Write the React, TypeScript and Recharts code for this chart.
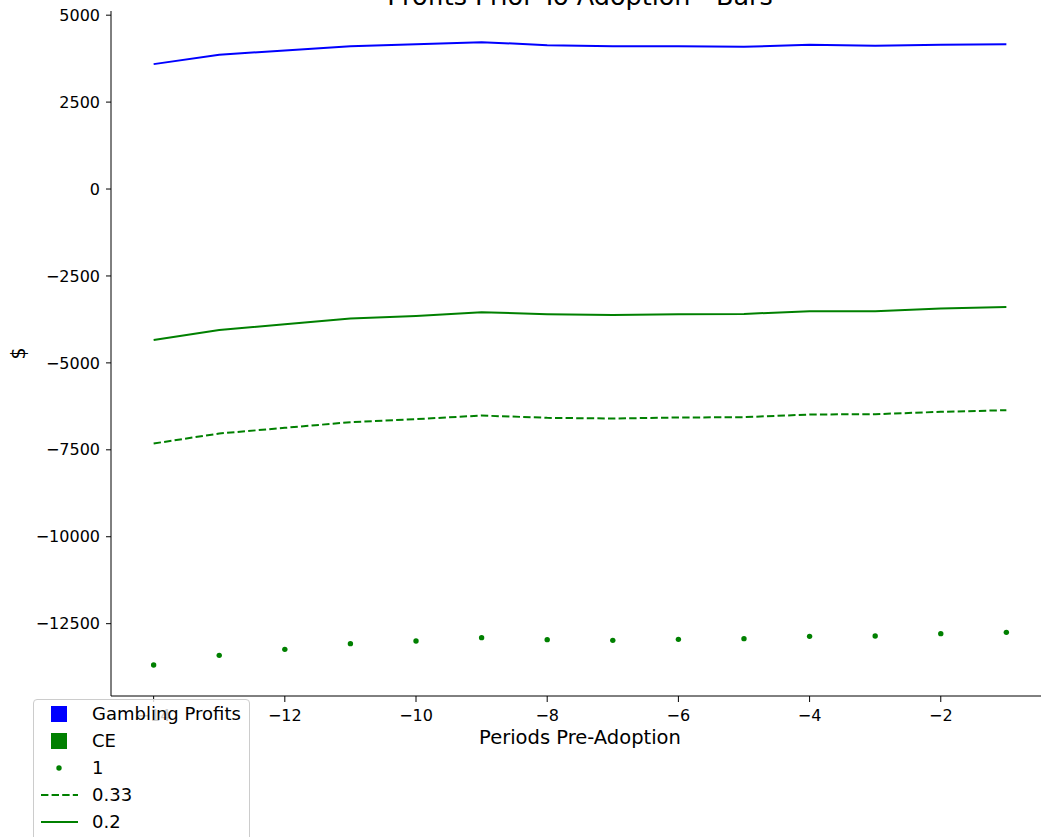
import { LineChart, Line, XAxis, YAxis } from "recharts";

const periods = [-14, -13, -12, -11, -10, -9, -8, -7, -6, -5, -4, -3, -2, -1];
const gamblingProfits = [3592, 3859, 3986, 4109, 4167, 4224, 4138, 4109, 4109, 4089, 4147, 4118, 4147, 4167];
const ceRisk1 = [-13687, -13411, -13239, -13075, -12997, -12902, -12960, -12980, -12951, -12931, -12865, -12853, -12787, -12750];
const ceRisk033 = [-7318, -7031, -6868, -6705, -6618, -6514, -6580, -6600, -6571, -6561, -6485, -6475, -6408, -6360];
const ceRisk02 = [-4339, -4052, -3888, -3726, -3649, -3544, -3601, -3621, -3601, -3592, -3515, -3515, -3439, -3391];

const xTicks = [-14, -12, -10, -8, -6, -4, -2];
const yTicks = [-12500, -10000, -7500, -5000, -2500, 0, 2500, 5000];

const data = periods.map((p, i) => ({
  period: p,
  gambling: gamblingProfits[i],
  ce1: ceRisk1[i],
  ce033: ceRisk033[i],
  ce02: ceRisk02[i],
}));

const FONT = "'DejaVu Sans', sans-serif";
const fmt = (v: number) => (v < 0 ? "\u2212" + Math.abs(v) : String(v));

const legendItems = [
  { label: "Gambling Profits", kind: "square", color: "#0000ff" },
  { label: "CE", kind: "square", color: "#008000" },
  { label: "1", kind: "dot", color: "#008000" },
  { label: "0.33", kind: "dash", color: "#008000" },
  { label: "0.2", kind: "line", color: "#008000" },
];

function LegendBox() {
  return (
    <div
      style={{
        position: "absolute",
        left: 33,
        top: 699,
        width: 215,
        height: 160,
        background: "rgba(255,255,255,0.8)",
        border: "1px solid #cccccc",
        borderRadius: 4,
        fontFamily: FONT,
        fontSize: 18,
        color: "#000",
      }}
    >
      {legendItems.map((it, i) => (
        <div key={it.label} style={{ position: "absolute", left: 0, top: 2 + i * 27, height: 24, width: 215 }}>
          <svg width={50} height={24} style={{ position: "absolute", left: 5, top: 0 }}>
            {it.kind === "square" && <rect x={12} y={4} width={16} height={16} fill={it.color} />}
            {it.kind === "dot" && <circle cx={20} cy={12} r={2.7} fill={it.color} />}
            {it.kind === "dash" && (
              <line x1={2} y1={12} x2={39} y2={12} stroke={it.color} strokeWidth={2} strokeDasharray="7.4 3.2" />
            )}
            {it.kind === "line" && <line x1={2} y1={12} x2={39} y2={12} stroke={it.color} strokeWidth={2} />}
          </svg>
          <span style={{ position: "absolute", left: 58, top: 1, lineHeight: "22px", whiteSpace: "nowrap" }}>{it.label}</span>
        </div>
      ))}
    </div>
  );
}

export default function App() {
  return (
    <div style={{ position: "fixed", left: 0, top: 0, width: 1041, height: 837, overflow: "hidden", background: "#fff" }}>
      <LineChart width={1100} height={837} data={data} margin={{ top: 11, right: 51, bottom: 91, left: 0 }}>
        <XAxis
          dataKey="period"
          type="number"
          domain={[-14.65, -0.35]}
          ticks={xTicks}
          allowDataOverflow
          height={50}
          tickSize={6}
          tickMargin={8}
          tickFormatter={fmt}
          stroke="#000"
          tick={{ fill: "#000", fontSize: 16, fontFamily: FONT }}
          label={{ value: "Periods Pre-Adoption", position: "insideBottom", offset: 2, fill: "#000", fontSize: 19.5, fontFamily: FONT }}
        />
        <XAxis
          xAxisId="top"
          orientation="top"
          dataKey="period"
          type="number"
          domain={[-14.65, -0.35]}
          allowDataOverflow
          height={0}
          tick={false}
          tickLine={false}
          stroke="#000"
        />
        <YAxis
          type="number"
          domain={[-14580, 5120]}
          ticks={yTicks}
          allowDataOverflow
          width={111}
          tickSize={5}
          tickMargin={6}
          tickFormatter={fmt}
          stroke="#000"
          tick={{ fill: "#000", fontSize: 16, fontFamily: FONT }}
          label={{
            content: (props: any) => {
              const vb = props.viewBox || { y: 11, height: 685 };
              const cy = vb.y + vb.height / 2;
              return (
                <text
                  x={18}
                  y={cy}
                  transform={`rotate(-90 18 ${cy})`}
                  textAnchor="middle"
                  dominantBaseline="central"
                  fontSize={19}
                  fontFamily={FONT}
                  fill="#000"
                >
                  $
                </text>
              );
            },
          }}
        />
        <Line dataKey="gambling" stroke="#0000ff" strokeWidth={2} dot={false} isAnimationActive={false} />
        <Line dataKey="ce02" stroke="#008000" strokeWidth={2} dot={false} isAnimationActive={false} />
        <Line dataKey="ce033" stroke="#008000" strokeWidth={2} strokeDasharray="7.4 3.2" dot={false} isAnimationActive={false} />
        <Line
          dataKey="ce1"
          stroke="none"
          strokeWidth={0}
          dot={{ r: 2.7, fill: "#008000", stroke: "none" }}
          isAnimationActive={false}
        />
      </LineChart>
      <svg width={1041} height={20} style={{ position: "absolute", left: 0, top: 0 }}>
        <text x={580} y={4.5} textAnchor="middle" fontSize={25.5} fontFamily={FONT} fill="#000">
          Profits Prior To Adoption - Bars
        </text>
      </svg>
      <LegendBox />
    </div>
  );
}
